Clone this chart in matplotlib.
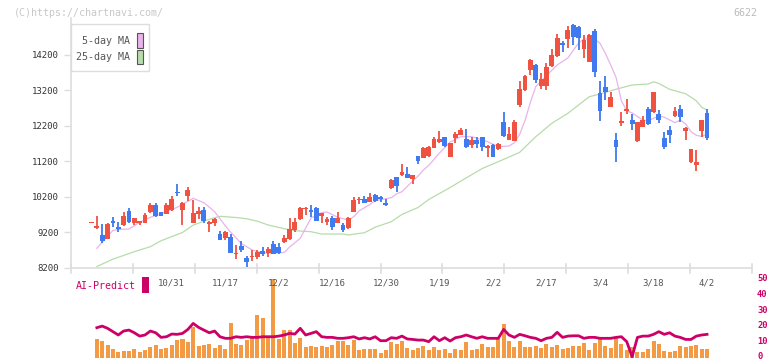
import numpy as np
import matplotlib
matplotlib.use("Agg")
import matplotlib.pyplot as plt
from matplotlib.patches import Rectangle
from matplotlib.lines import Line2D

# ── data ───────────────────────────────────────────────────────────
opens = [9465, 9327, 9121, 9017, 9524, 9355, 9403, 9806, 9468, 9450,
         9468, 9769, 9975, 9769, 9722, 9825, 10324, 9825, 10220, 9468,
         9713, 9825, 9422, 9468, 9149, 9037, 9073, 8578, 8811, 8482,
         8501, 8501, 8679, 8606, 8868, 8792, 8933, 9008, 9262, 9571,
         9845, 9834, 9890, 9656, 9487, 9608, 9468, 9403, 9327, 9778,
         10098, 10126, 10051, 10248, 10183, 10014, 10454, 10755, 10811, 10840,
         10699, 11346, 11299, 11355, 11581, 11750, 11890, 11327, 11845, 11938,
         11817, 11657, 11798, 11890, 11581, 11657, 11544, 12295, 11797, 11778,
         12783, 13206, 13769, 13910, 13330, 13327, 13891, 14163, 14538, 14634,
         15037, 14972, 14361, 14003, 14876, 13113, 13282, 12735, 11797, 12285,
         12623, 12361, 11778, 12172, 12670, 12595, 12530, 11862, 12079, 12473,
         12670, 12059, 11169, 11093, 12051, 12549]
closes = [9490, 9375, 8961, 9431, 9468, 9299, 9665, 9496, 9591, 9507,
          9685, 9975, 9665, 9665, 9966, 10135, 10296, 10031, 10389, 9750,
          9806, 9515, 9496, 9563, 8989, 9205, 8623, 8606, 8698, 8361,
          8538, 8651, 8586, 8727, 8586, 8606, 9045, 9290, 9487, 9890,
          9890, 9778, 9524, 9732, 9580, 9355, 9608, 9262, 9608, 10107,
          10126, 10031, 10183, 10087, 10135, 9966, 10670, 10501, 10904, 10718,
          10811, 11206, 11563, 11591, 11826, 11826, 11637, 11704, 11966, 12079,
          11609, 11798, 11685, 11609, 11637, 11327, 11685, 11920, 11966, 12313,
          13234, 13600, 14051, 13487, 13516, 13862, 14191, 14679, 14473, 14896,
          14690, 14662, 14614, 14755, 13721, 12623, 13158, 13000, 11609, 12341,
          12662, 12248, 12296, 12361, 12248, 13141, 12361, 11609, 11938, 12614,
          12437, 12144, 11544, 11186, 12361, 11862]
highs = [9490, 9656, 9431, 9450, 9620, 9479, 9761, 9873, 9608, 9524,
         9732, 10014, 10014, 9780, 10014, 10220, 10558, 10040, 10482, 10107,
         9918, 9901, 9515, 9608, 9234, 9242, 9141, 8839, 8952, 8530,
         8699, 8699, 8792, 8792, 8952, 8904, 9121, 9608, 9608, 9918,
         9918, 9965, 9909, 9732, 9637, 9656, 9778, 9468, 9620, 10183,
         10183, 10220, 10296, 10276, 10228, 10126, 10690, 10764, 11112, 11028,
         10811, 11346, 11591, 11628, 11873, 12051, 11890, 11704, 12031, 12126,
         12107, 11873, 11890, 11890, 11657, 11675, 11704, 12595, 12172, 12361,
         13459, 13628, 14071, 13929, 13676, 13958, 14353, 14783, 14586, 15009,
         15065, 15009, 14755, 14775, 14916, 13468, 13600, 13158, 11986, 12595,
         12952, 12530, 12313, 12474, 12718, 13141, 12642, 12031, 12192, 12718,
         12783, 12172, 11544, 11515, 12361, 12662]
lows = [9465, 9282, 8887, 9000, 9338, 9214, 9375, 9468, 9403, 9403,
        9468, 9732, 9637, 9660, 9704, 9806, 10220, 9403, 10087, 9468,
        9572, 9468, 9214, 9383, 8980, 8980, 8623, 8437, 8651, 8228,
        8397, 8454, 8538, 8510, 8586, 8586, 8887, 8980, 9214, 9543,
        9684, 9637, 9515, 9468, 9403, 9262, 9468, 9214, 9290, 9778,
        9994, 10014, 10040, 10059, 10059, 9947, 10417, 10341, 10792, 10718,
        10558, 11121, 11281, 11327, 11563, 11704, 11591, 11327, 11722, 11938,
        11581, 11581, 11581, 11487, 11327, 11309, 11515, 11890, 11797, 11769,
        12719, 13186, 13628, 13412, 13226, 13206, 13862, 14144, 14285, 14380,
        14473, 14332, 14099, 14003, 13580, 12341, 12924, 12718, 11186, 12200,
        12530, 12080, 11750, 12170, 12220, 12549, 12285, 11544, 11722, 12454,
        12313, 11797, 11141, 10933, 11873, 11797]

ma5_idx = [1, 4, 5, 7, 9, 11, 13, 16, 19, 21, 23, 25, 26, 28, 30, 32, 34, 36,
           37, 39, 40, 41, 43, 44, 46, 48, 49, 50, 52, 53, 56, 57, 58, 60, 61,
           62, 63, 65, 67, 69, 71, 72, 74, 76, 78, 79, 80, 81, 82, 83, 85, 87,
           89, 91, 92, 94, 95, 96, 97, 98, 99, 100, 101, 103, 104, 106, 107,
           109, 110, 111, 112, 113, 114, 115]
ma5_val = [8747, 9250, 9276, 9290, 9480, 9620, 9720, 9900, 10155, 10030,
           9780, 9380, 9200, 8880, 8700, 8614, 8614, 8630, 8780, 9028, 9310,
           9600, 9749, 9769, 9620, 9544, 9637, 9800, 9980, 10090, 10172,
           10280, 10341, 10640, 10780, 10952, 11080, 11430, 11740, 11890,
           11890, 11850, 11749, 11609, 11628, 11720, 11960, 12350, 12860,
           13300, 13610, 13910, 14110, 14530, 14643, 14643, 14521, 14240,
           13910, 13560, 12900, 12620, 12560, 12361, 12341, 12473, 12440,
           12285, 12361, 12250, 12031, 11930, 11896, 11966]

ma25_idx = [1, 4, 8, 11, 13, 17, 19, 22, 24, 27, 29, 31, 33, 36, 38, 41, 43,
            47, 48, 51, 53, 56, 58, 61, 63, 67, 69, 73, 76, 80, 83, 86, 89,
            91, 93, 95, 98, 101, 104, 105, 106, 108, 111, 113, 114, 115]
ma25_val = [8234, 8440, 8651, 8792, 8960, 9192, 9400, 9563, 9648, 9614,
            9578, 9510, 9403, 9299, 9242, 9214, 9149, 9149, 9121, 9186,
            9340, 9496, 9700, 9896, 10120, 10459, 10640, 10994, 11186, 11450,
            11890, 12268, 12549, 12783, 13017, 13093, 13228, 13347, 13375,
            13437, 13390, 13226, 13101, 12901, 12718, 12642]

volume = [11.8, 10.5, 8, 5.5, 3.8, 4.2, 4.2, 5.5, 3.8, 4.8,
          6.7, 8, 5.5, 6.3, 8, 11.1, 11.8, 10.1, 19.5, 7.4,
          8, 8.6, 5.9, 8, 5.5, 22, 8.6, 8, 11.1, 13.2,
          26.8, 25.2, 13.2, 49.3, 11.8, 17.4, 17.4, 9.4, 12.4, 6.9,
          7.4, 6.7, 7.4, 6.7, 8, 10.5, 10.5, 8, 11.1, 4.8,
          5.5, 5.5, 5.5, 3.1, 5.1, 10.1, 8.6, 10.5, 6.3, 5.1,
          6.3, 7.4, 4.8, 6.9, 5.1, 5.5, 3.1, 5.5, 4.8, 10.1,
          5.1, 5.5, 8.6, 6.7, 6.7, 11.5, 21.2, 10.7, 6.9, 10.7,
          6.9, 6.9, 7.2, 6.3, 8.6, 6.9, 8, 5.5, 6.3, 7.6,
          7.4, 9.4, 4.8, 9.4, 11.5, 7.4, 5.9, 12.2, 8.6, 4.8,
          6.5, 3.8, 3.4, 5.5, 10.7, 8.6, 4.1, 3.8, 4.4, 7.4,
          6.9, 7.4, 8, 5.3, 5.5]
ai_predict = [18.9, 19.9, 18.5, 16.4, 14.3, 16.8, 17.4, 15.7, 13.6, 14.3,
              16.8, 15.7, 12.8, 13.2, 14.9, 14.7, 15.3, 17.8, 21.6, 19.1,
              17.4, 15.7, 16.8, 13.2, 12.2, 12.2, 13.2, 12.8, 13.2, 12.8,
              12.8, 13.2, 13.2, 13.2, 13.6, 14.3, 15.3, 14.9, 18.5, 14.3,
              15.3, 16.4, 13.2, 12.8, 12.8, 12.2, 12.2, 12.6, 13.2, 11.8,
              12.6, 11.8, 13.2, 10.7, 10.7, 12.6, 12.2, 13.6, 11.8, 11.5,
              11.1, 11.1, 10.1, 13.2, 10.7, 12.6, 10.5, 12.6, 13.2, 14.3,
              13.2, 12.2, 13.2, 12.2, 12.2, 12.2, 17.8, 14.3, 12.8, 14.7,
              13.8, 12.8, 12.2, 10.7, 12.2, 12.8, 16.0, 12.8, 13.6, 13.8,
              13.8, 12.2, 12.8, 12.8, 12.2, 12.2, 12.2, 12.8, 13.2, 10.1,
              0.6, 12.8, 13.6, 13.6, 14.7, 16.4, 14.7, 15.7, 13.6, 12.8,
              11.5, 11.5, 13.6, 14.3, 14.7]

date_idx = [15, 25, 35, 45, 55, 65, 75, 85, 95, 105, 115]
date_labels = ["10/31", "11/17", "12/2", "12/16", "12/30", "1/19",
               "2/2", "2/17", "3/4", "3/18", "4/2"]
price_ticks = [8200, 9200, 10200, 11200, 12200, 13200, 14200]
sub_ticks = [0, 10, 20, 30, 40, 50]

# ── style ───────────────────────────────────────────────────────────
W, H = 772, 361
RED, BLUE = "#f05242", "#3f7af0"
PINK, GREEN = "#e8b4ea", "#b6dcaa"
ORANGE, CRIMSON = "#f29a44", "#cc0066"
AXIS = "#dddddd"
MONO = "DejaVu Sans Mono"
XLIM = (-3.83, 123.4)


def fx(x):
    return x / W


def fy(y):
    return 1 - y / H


fig = plt.figure(figsize=(W / 100, H / 100), dpi=100)
fig.patch.set_facecolor("white")

# main price panel
ax = fig.add_axes([fx(71), fy(267.7), fx(752) - fx(71), fy(18) - fy(267.7)])
ax.set_xlim(*XLIM)
ax.set_ylim(8200, 8200 + 249.7 * 28.17)

x = np.arange(len(opens))
o, c = np.array(opens), np.array(closes)
up = c >= o
col = np.where(up, RED, BLUE)

ax.plot(ma25_idx, ma25_val, color=GREEN, lw=0.9, zorder=2)
ax.plot(ma5_idx, ma5_val, color=PINK, lw=0.9, zorder=2)
ax.vlines(x, lows, highs, colors=col, lw=1.3, zorder=3)
body = np.maximum(np.abs(c - o), 35)
ax.bar(x, body, bottom=np.minimum(o, c), width=0.9, color=col, zorder=4, linewidth=0)

for s in ["top", "right"]:
    ax.spines[s].set_visible(False)
for s in ["left", "bottom"]:
    ax.spines[s].set_color(AXIS)
    ax.spines[s].set_linewidth(1.2)
ax.set_yticks(price_ticks)
ax.set_yticklabels([str(v) for v in price_ticks], fontsize=6.5, family=MONO, color="#333333")
ax.tick_params(axis="y", length=5, color=AXIS, width=1, pad=4)
ax.set_xticks([])

# AI-Predict panel (transparent background so the date row stays visible)
ax2 = fig.add_axes([fx(71), fy(357.7), fx(752) - fx(71), fy(278.3) - fy(357.7)])
ax2.patch.set_alpha(0)
ax2.set_xlim(*XLIM)
ax2.set_ylim(0, 50)
xs = np.arange(1, len(volume) + 1)
ax2.bar(xs, volume, width=0.75, color=ORANGE, linewidth=0, zorder=2)
ax2.plot(xs, ai_predict, color=CRIMSON, lw=2.0, zorder=3)
for s in ax2.spines.values():
    s.set_visible(False)
ax2.set_xticks([])
ax2.set_yticks([])
for v in sub_ticks:
    yy = 357.7 - v * 1.588
    if v == 0:
        yy -= 1.5
    fig.text(fx(757), fy(yy), str(v), ha="left", va="center", fontsize=6.3,
             family=MONO, color=CRIMSON, fontweight="bold")

# tick marks across the bottom line (11 equal intervals)
for k in range(12):
    xx = fx(71) + k * (fx(752) - fx(71)) / 11
    fig.add_artist(Line2D([xx, xx], [fy(273), fy(264)], color=AXIS, lw=1.2))

# date labels between the panels
for i, lab in zip(date_idx, date_labels):
    xpx = 71 + (i - XLIM[0]) / (XLIM[1] - XLIM[0]) * 681
    fig.text(fx(xpx), fy(282.5), lab, ha="center", va="center", fontsize=6.5,
             family=MONO, color="#555555", zorder=10)

# legend box
fig.add_artist(Rectangle((fx(70.7), fy(71.3)), fx(148.7) - fx(70.7), fy(24) - fy(71.3),
                         transform=fig.transFigure, facecolor="white", edgecolor=AXIS, lw=1, zorder=5))
for yy, label, sw in [(40.7, "5-day MA", PINK), (57, "25-day MA", GREEN)]:
    fig.text(fx(130), fy(yy), label, ha="right", va="center", fontsize=7.2,
             family=MONO, color="#555555", zorder=6)
    fig.add_artist(Rectangle((fx(137), fy(yy + 7)), fx(143) - fx(137), fy(yy - 7.5) - fy(yy + 7),
                             transform=fig.transFigure, facecolor=sw, edgecolor="#555555", lw=0.8, zorder=6))

# watermark / code
fig.text(fx(14), fy(12.5), "(C)https://chartnavi.com/", ha="left", va="center",
         fontsize=7.2, family=MONO, color="#c8c8c8")
fig.text(fx(757), fy(12.5), "6622", ha="right", va="center",
         fontsize=7.2, family=MONO, color="#bbbbbb")

fig.text(fx(76), fy(286), "AI-Predict", ha="left", va="center", fontsize=7.2,
         family=MONO, color=CRIMSON)
fig.add_artist(Rectangle((fx(142), fy(293)), fx(149) - fx(142), fy(277) - fy(293),
                         transform=fig.transFigure, facecolor=CRIMSON, edgecolor="none"))

fig.savefig("out.png", dpi=100, facecolor="white")
